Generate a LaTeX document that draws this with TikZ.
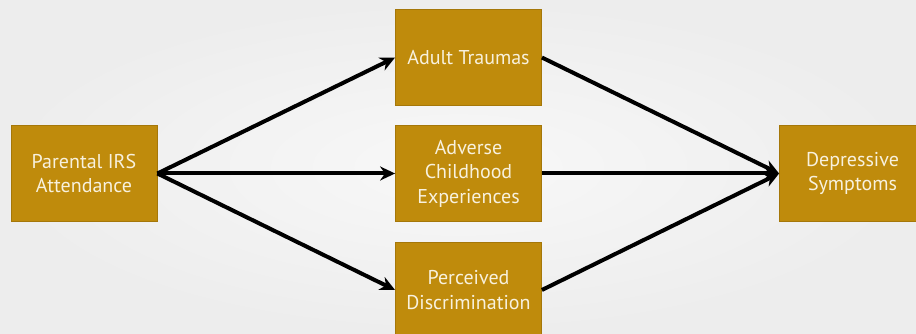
\documentclass[tikz,border=0pt]{standalone}
\usepackage{fontspec}
\setmainfont{PT Sans}
\usetikzlibrary{arrows.meta}
\definecolor{bginner}{HTML}{F8F8F8}
\definecolor{bgouter}{HTML}{EDEDED}
\definecolor{boxfill}{HTML}{BF8B0C}
\definecolor{boxline}{HTML}{A57709}
\definecolor{boxtext}{HTML}{F8F1DE}
\tikzset{
  factor/.style={rectangle, fill=boxfill, draw=boxline, line width=0.8pt,
    minimum width=146pt, minimum height=96pt, inner sep=0pt,
    text=boxtext, align=center, font=\fontsize{20}{24.5}\selectfont},
  path/.style={line width=4pt, -{Stealth[length=15pt,width=14pt]}}
}
\begin{document}
\begin{tikzpicture}[x=1pt,y=-1pt]
  \useasboundingbox (0,0) rectangle (916,334);
  \clip (0,0) rectangle (916,334);
  \shade[inner color=bginner, outer color=bgouter] (0,0) rectangle (916,334);

  \node[factor] (par) at (84,173.5) {Parental IRS\\Attendance};
  \node[factor] (adu) at (468.5,57.5) {Adult Traumas};
  \node[factor] (ace) at (468.5,173.5) {Adverse\\Childhood\\Experiences};
  \node[factor] (dis) at (468.5,290) {Perceived\\Discrimination};
  \node[factor] (dep) at (852.5,173.5) {Depressive\\Symptoms};

  \draw[path] (par.east) -- (adu.west);
  \draw[path] (par.east) -- (ace.west);
  \draw[path] (par.east) -- (dis.west);
  \draw[path] (adu.east) -- (dep.west);
  \draw[path] (ace.east) -- (dep.west);
  \draw[path] (dis.east) -- (dep.west);
\end{tikzpicture}
\end{document}
